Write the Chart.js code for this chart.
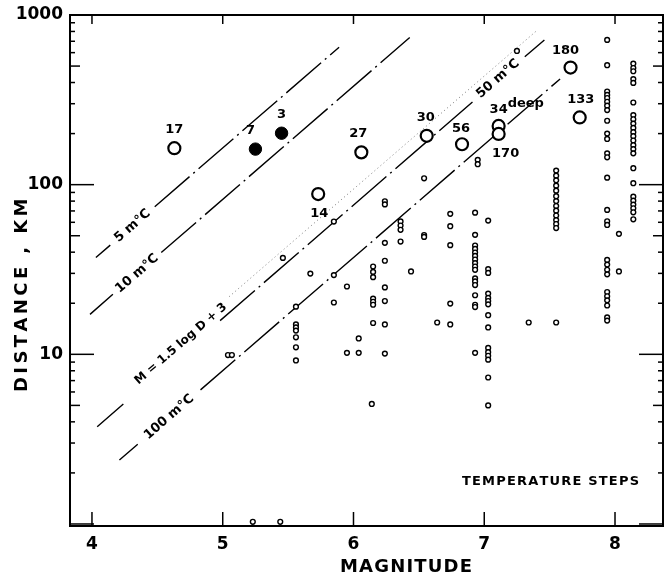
<!DOCTYPE html>
<html>
<head>
<meta charset="utf-8">
<script src="https://cdn.jsdelivr.net/npm/chart.js@4.4.1/dist/chart.umd.min.js"></script>
<style>
  html, body { margin: 0; padding: 0; background: #fff; }
  #wrap { width: 664px; height: 579px; }
</style>
</head>
<body>
<div id="wrap"><canvas id="chart" width="664" height="579"></canvas></div>
<script>
"use strict";

// axis ranges and ticks
const xMin = 3.832, xMax = 8.367;
const yMin = 0.973, yMax = 1000;
const xTicks = [4, 5, 6, 7, 8];
const yTickLabels = [10, 100, 1000];

// small circles, one entry per column of events: magnitude + distances (km)
const smallMag = [5.23, 5.44, 5.04, 5.07, 5.46, 5.56, 5.67, 5.85, 5.95, 6.04, 6.14, 6.15, 6.24,
                  6.36, 6.44, 6.54, 6.64, 6.74, 6.93, 6.95, 7.03, 7.25, 7.34, 7.55, 7.94, 8.03, 8.14];
const smallDist = [
    [1.03], [1.03], [9.9], [9.9], [37.0],
    [19.1, 15.0, 14.4, 13.8, 12.6, 11.0, 9.2],
    [29.9],
    [60.6, 29.3, 20.2],
    [25.1, 10.2],
    [12.4, 10.2],
    [5.1],
    [32.9, 30.6, 28.5, 21.3, 20.4, 19.6, 15.3],
    [79.8, 76.5, 45.4, 35.6, 24.8, 20.6, 15.0, 10.1],
    [60.7, 57.4, 54.2, 46.2],
    [30.8],
    [109, 50.5, 49.2],
    [15.4],
    [67.3, 56.9, 44.0, 19.9, 15.0],
    [68.4, 50.6, 43.8, 41.8, 39.8, 38.0, 36.2, 34.5, 32.9, 31.5, 28.0, 26.9, 25.6, 22.3, 19.6, 19.0, 10.2],
    [140, 132],
    [61.4, 31.8, 30.2, 22.8, 21.5, 20.6, 19.7, 17.0, 14.4, 10.9, 10.3, 9.8, 9.3, 7.3, 5.0],
    [614],
    [15.4],
    [121, 113, 106, 98.7, 92.2, 85.5, 80.0, 74.8, 70.3, 65.8, 61.8, 58.6, 55.5, 15.4],
    [713, 506, 354, 338, 324, 308, 292, 275, 238, 200, 186, 153, 145, 110, 71.0, 60.8, 57.9,
     36.0, 33.8, 31.5, 29.6, 23.3, 22.0, 20.8, 19.4, 16.5, 15.8],
    [51.3, 30.8],
    [517, 487, 466, 419, 398, 305, 257, 243, 229, 216, 204, 193, 182, 171, 162, 153, 125, 102,
     85.0, 80.5, 76.3, 72.6, 68.7, 62.5]
];

// numbered events (big circles)
const bigLabel = ["17", "7", "3", "27", "30", "14", "56", "34", "170", "180", "133"];
const bigMag = [4.63, 5.25, 5.45, 6.06, 6.56, 5.73, 6.83, 7.11, 7.11, 7.66, 7.73];
const bigDist = [164, 162, 201, 155, 194, 88, 173, 222, 199, 490, 249];
const bigFilled = [false, true, true, false, false, false, false, false, false, false, false];
const bigSup = ["", "", "", "", "", "", "", "deep", "", "", ""];

// temperature step lines [magnitude, distance], null = break
const line5 = [[4.03, 37.2], [4.14, 44.0], null, [4.48, 74.1], [5.89, 646]];
const line10 = [[3.985, 17.2], [4.16, 22.6], null, [4.53, 39.8], [6.43, 736]];
const line50 = [[4.04, 3.74], [4.24, 5.09], null, [4.98, 15.8], [6.91, 307], null, [7.31, 567], [7.46, 713]];
const line100 = [[4.21, 2.38], [4.35, 2.95], null, [4.83, 6.17], [7.58, 420]];
const lineDotted = [[5.05, 21.9], [7.4, 807]];

const lineText = ["5 m°C", "10 m°C", "M = 1.5 log D + 3", "50 m°C", "100 m°C"];
const lineTextMag = [4.31, 4.345, 4.72, 7.11, 4.59];

// styling
const FONT = "'DejaVu Sans', sans-serif";
const lineTextOf = [line5, line10, line50, line50, line100];
const lineTextShift = [0, 0, -8, -1, 0];
const lineTextSize = [13, 13, 12, 13, 13];
const bigLabelShift = [[0, -19], [-5, -18], [0, -19], [-3, -19], [-1, -18], [1, 20],
                       [-1, -16], [0, -16], [7, 20], [-5, -17], [1, -18]];
const DASH = [46, 5, 2, 5];

function toXY(pts) {
    return pts.map(p => p ? { x: p[0], y: p[1] } : { x: 0, y: null });
}

function smallPoints() {
    const out = [];
    smallMag.forEach((m, i) => smallDist[i].forEach(d => out.push({ x: m, y: d })));
    return out;
}

function bigPoints(filled) {
    const out = [];
    bigMag.forEach((m, i) => { if (bigFilled[i] === filled) out.push({ x: m, y: bigDist[i] }); });
    return out;
}

function lineSet(pts, dash, color, width) {
    return {
        data: toXY(pts), showLine: true, spanGaps: false, pointRadius: 0,
        borderColor: color, borderWidth: width, borderDash: dash, fill: false
    };
}

function spaced(ctx, text, cx, cy, width) {
    const w = ctx.measureText(text).width;
    const extra = text.length > 1 ? (width - w) / (text.length - 1) : 0;
    let x = cx - width / 2;
    ctx.textAlign = "left";
    for (const ch of text) {
        ctx.fillText(ch, x, cy);
        x += ctx.measureText(ch).width + extra;
    }
}

const overlay = {
    id: "overlay",
    afterDraw(chart) {
        const { ctx, chartArea: a } = chart;
        const xs = chart.scales.x, ys = chart.scales.y;
        const seg = (x1, y1, x2, y2) => { ctx.beginPath(); ctx.moveTo(x1, y1); ctx.lineTo(x2, y2); ctx.stroke(); };
        ctx.save();
        ctx.strokeStyle = "#000";
        ctx.fillStyle = "#000";

        // frame
        ctx.lineWidth = 2;
        ctx.strokeRect(a.left, a.top, a.right - a.left, a.bottom - a.top);

        // inward ticks
        ctx.lineWidth = 1.5;
        for (let dec = 1; dec <= 1000; dec *= 10) {
            for (let k = 1; k <= 9; k++) {
                const v = k * dec;
                if (v < ys.min || v > ys.max) continue;
                const py = ys.getPixelForValue(v);
                const len = k === 1 ? 24 : (k === 5 ? 10 : 5);
                seg(a.left, py, a.left + len, py);
                seg(a.right, py, a.right - len, py);
            }
        }
        xTicks.forEach(m => {
            const px = xs.getPixelForValue(m);
            seg(px, a.bottom, px, a.bottom - 14);
            seg(px, a.top, px, a.top + 9);
        });

        // labels along the lines
        ctx.textBaseline = "middle";
        lineText.forEach((t, i) => {
            const pts = lineTextOf[i].filter(p => p);
            const p1 = pts[0], p2 = pts[pts.length - 1];
            const m = lineTextMag[i];
            const ld = Math.log10(p1[1]) + (m - p1[0]) * (Math.log10(p2[1]) - Math.log10(p1[1])) / (p2[0] - p1[0]);
            const px = xs.getPixelForValue(m), py = ys.getPixelForValue(Math.pow(10, ld));
            const ang = Math.atan2(ys.getPixelForValue(p2[1]) - ys.getPixelForValue(p1[1]),
                                   xs.getPixelForValue(p2[0]) - xs.getPixelForValue(p1[0]));
            ctx.save();
            ctx.translate(px, py);
            ctx.rotate(ang);
            ctx.font = "bold " + lineTextSize[i] + "px " + FONT;
            ctx.textAlign = "center";
            ctx.fillText(t, 0, lineTextShift[i]);
            ctx.restore();
        });

        // event numbers
        ctx.font = "bold 13px " + FONT;
        bigLabel.forEach((t, i) => {
            const px = xs.getPixelForValue(bigMag[i]) + bigLabelShift[i][0];
            const py = ys.getPixelForValue(bigDist[i]) + bigLabelShift[i][1];
            ctx.textAlign = "center";
            ctx.fillText(t, px, py);
            if (bigSup[i]) {
                const w = ctx.measureText(t).width;
                ctx.textAlign = "left";
                ctx.fillText(bigSup[i], px + w / 2, py - 6);
            }
        });

        // titles
        ctx.font = "bold 13px " + FONT;
        spaced(ctx, "TEMPERATURE STEPS", 550, 482, 176);
        ctx.font = "bold 18px " + FONT;
        spaced(ctx, "MAGNITUDE", 406, 567, 132);
        ctx.save();
        ctx.translate(22, 296);
        ctx.rotate(-Math.PI / 2);
        spaced(ctx, "DISTANCE , KM", 0, 0, 192);
        ctx.restore();

        ctx.restore();
    }
};

new Chart(document.getElementById("chart"), {
    type: "scatter",
    data: {
        datasets: [
            { data: bigPoints(false), pointRadius: 6, pointBorderWidth: 2.2, pointBackgroundColor: "#fff", pointBorderColor: "#000" },
            { data: bigPoints(true), pointRadius: 6.2, pointBorderWidth: 1, pointBackgroundColor: "#000", pointBorderColor: "#000" },
            { data: smallPoints(), pointRadius: 2.4, pointBorderWidth: 1.4, pointBackgroundColor: "#fff", pointBorderColor: "#000" },
            lineSet(line5, DASH, "#000", 1.4),
            lineSet(line10, DASH, "#000", 1.4),
            lineSet(line50, DASH, "#000", 1.4),
            lineSet(line100, DASH, "#000", 1.4),
            lineSet(lineDotted, [1, 3], "#777", 1)
        ]
    },
    options: {
        responsive: false,
        animation: false,
        devicePixelRatio: 1,
        layout: { autoPadding: false, padding: { top: 15, right: 1, left: 0, bottom: 0 } },
        plugins: { legend: { display: false }, tooltip: { enabled: false } },
        scales: {
            x: {
                type: "linear", min: xMin, max: xMax,
                afterBuildTicks: s => { s.ticks = xTicks.map(v => ({ value: v })); },
                afterFit: s => { s.height = 53; s.paddingLeft = 0; s.paddingRight = 0; },
                grid: { display: false, drawTicks: false },
                border: { display: false },
                ticks: { padding: 8, color: "#000", font: { family: FONT, size: 17, weight: "bold" }, callback: v => String(v) }
            },
            y: {
                type: "logarithmic", min: yMin, max: yMax,
                afterBuildTicks: s => { s.ticks = yTickLabels.map(v => ({ value: v })); },
                afterFit: s => { s.width = 70; s.paddingTop = 0; s.paddingBottom = 0; },
                grid: { display: false, drawTicks: false },
                border: { display: false },
                ticks: { padding: 7, color: "#000", font: { family: FONT, size: 17, weight: "bold" }, callback: v => String(v) }
            }
        }
    },
    plugins: [overlay]
});
</script>
</body>
</html>
